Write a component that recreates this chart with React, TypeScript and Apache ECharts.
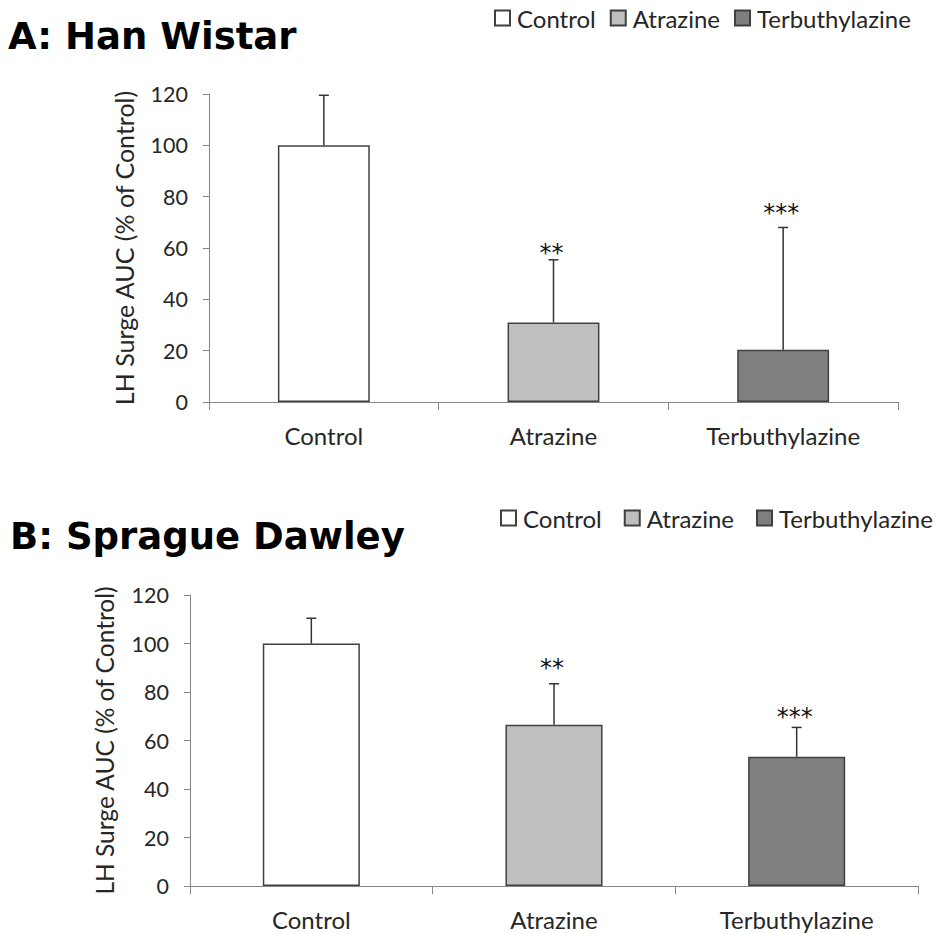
import React, { useEffect, useRef } from "react";
import * as echarts from "echarts";

const categories = ["Control", "Atrazine", "Terbuthylazine"];
const barColors = ["#ffffff", "#bfbfbf", "#7f7f7f"];

// Panel A: Han Wistar
const meanA = [100, 31, 20.4];
const upperA = [119.5, 55.4, 68];
const starsA = ["", "**", "***"];
const starLevelA = [null, 60.5, 76];

// Panel B: Sprague Dawley
const meanB = [100, 66.5, 53.3];
const upperB = [110.4, 83.4, 65.4];
const starsB = ["", "**", "***"];
const starLevelB = [null, 92.5, 72];

const titleA = "A: Han Wistar";
const titleB = "B: Sprague Dawley";
const yName = "LH Surge AUC (% of Control)";

const FONT = "Lato";
const TXT = "#262626";
const AXIS = "#868686";
const EDGE = "#404040";

function panelSeries(p: number, mean: number[], upper: number[], stars: string[], starLevel: (number | null)[]) {
  const out: any[] = [];
  categories.forEach((name, i) => {
    out.push({
      type: "bar",
      name,
      xAxisIndex: p,
      yAxisIndex: p,
      barGap: "-100%",
      barWidth: "40%",
      data: categories.map((_, j) => (j === i ? mean[j] : "-")),
      itemStyle: { color: barColors[i], borderColor: EDGE, borderWidth: 1.5 },
    });
  });
  out.push({
    type: "custom",
    xAxisIndex: p,
    yAxisIndex: p,
    data: categories.map((_, i) => [i, mean[i], upper[i]]),
    encode: { x: 0, y: [1, 2] },
    z: 5,
    renderItem: (params: any, api: any) => {
      const base = api.coord([api.value(0), api.value(1)]);
      const top = api.coord([api.value(0), api.value(2)]);
      const st = { stroke: "#333333", lineWidth: 1.5 };
      return {
        type: "group",
        children: [
          { type: "line", shape: { x1: base[0], y1: base[1], x2: base[0], y2: top[1] }, style: st },
          { type: "line", shape: { x1: base[0] - 5, y1: top[1], x2: base[0] + 5, y2: top[1] }, style: st },
        ],
      };
    },
  });
  const starData: number[][] = [];
  starLevel.forEach((v, i) => {
    if (v !== null) starData.push([i, v]);
  });
  out.push({
    type: "custom",
    xAxisIndex: p,
    yAxisIndex: p,
    data: starData,
    encode: { x: 0, y: 1 },
    z: 6,
    renderItem: (params: any, api: any) => {
      const idx = api.value(0);
      const pt = api.coord([idx, api.value(1)]);
      return {
        type: "text",
        x: pt[0] - 2,
        y: pt[1] + 6,
        style: {
          text: stars[idx],
          fontFamily: "DejaVu Sans",
          fontSize: 24,
          fill: "#111",
          textAlign: "center",
          textVerticalAlign: "middle",
        },
      };
    },
  });
  return out;
}

function xAxis(p: number) {
  return {
    type: "category",
    gridIndex: p,
    data: categories,
    boundaryGap: true,
    axisLine: { lineStyle: { color: AXIS, width: 1 } },
    axisTick: { show: true, length: 8, alignWithLabel: false, lineStyle: { color: AXIS } },
    axisLabel: { fontFamily: FONT, fontSize: 24, color: TXT, margin: 21 },
  };
}

function yAxis(p: number, nameSize: number) {
  return {
    type: "value",
    gridIndex: p,
    min: 0,
    max: 120,
    interval: 20,
    name: yName,
    nameLocation: "middle",
    nameGap: 73,
    nameRotate: 90,
    nameTextStyle: { fontFamily: FONT, fontSize: nameSize, color: TXT },
    axisLine: { show: true, lineStyle: { color: AXIS, width: 1 } },
    axisTick: { show: true, length: 6, inside: false, lineStyle: { color: AXIS } },
    splitLine: { show: false },
    axisLabel: { fontFamily: FONT, fontSize: 21.5, color: TXT, margin: 21 },
  };
}

function legend(left: number, top: number, gap: number) {
  return {
    data: categories,
    left,
    top,
    width: 936 - left,
    padding: 0,
    itemWidth: 15,
    itemHeight: 15,
    itemGap: gap,
    icon: "rect",
    selectedMode: false,
    textStyle: { fontFamily: FONT, fontSize: 24, color: TXT, padding: [0, 0, 0, 2] },
  };
}

export default function App() {
  const ref = useRef<HTMLDivElement>(null);
  useEffect(() => {
    if (!ref.current) return;
    const chart = echarts.init(ref.current, undefined, { renderer: "svg" });
    chart.setOption({
      animation: false,
      backgroundColor: "#ffffff",
      grid: [
        { left: 209, right: 40, top: 94, height: 308 },
        { left: 190, right: 20, top: 595, height: 291 },
      ],
      legend: [legend(494, 6, 14), legend(500, 506, 22)],
      xAxis: [xAxis(0), xAxis(1)],
      yAxis: [yAxis(0, 25), yAxis(1, 24.5)],
      series: [
        ...panelSeries(0, meanA, upperA, starsA, starLevelA),
        ...panelSeries(1, meanB, upperB, starsB, starLevelB),
      ],
      graphic: [
        {
          type: "text",
          left: 8,
          top: 18,
          style: { text: titleA, fontFamily: "DejaVu Sans", fontWeight: "bold", fontSize: 37, fill: "#000" },
        },
        {
          type: "text",
          left: 10,
          top: 518,
          style: { text: titleB, fontFamily: "DejaVu Sans", fontWeight: "bold", fontSize: 37, fill: "#000" },
        },
      ],
    });
    return () => chart.dispose();
  }, []);
  return (
    <div
      ref={ref}
      style={{ position: "absolute", left: 0, top: 0, width: 938, height: 933, background: "#fff" }}
    />
  );
}
